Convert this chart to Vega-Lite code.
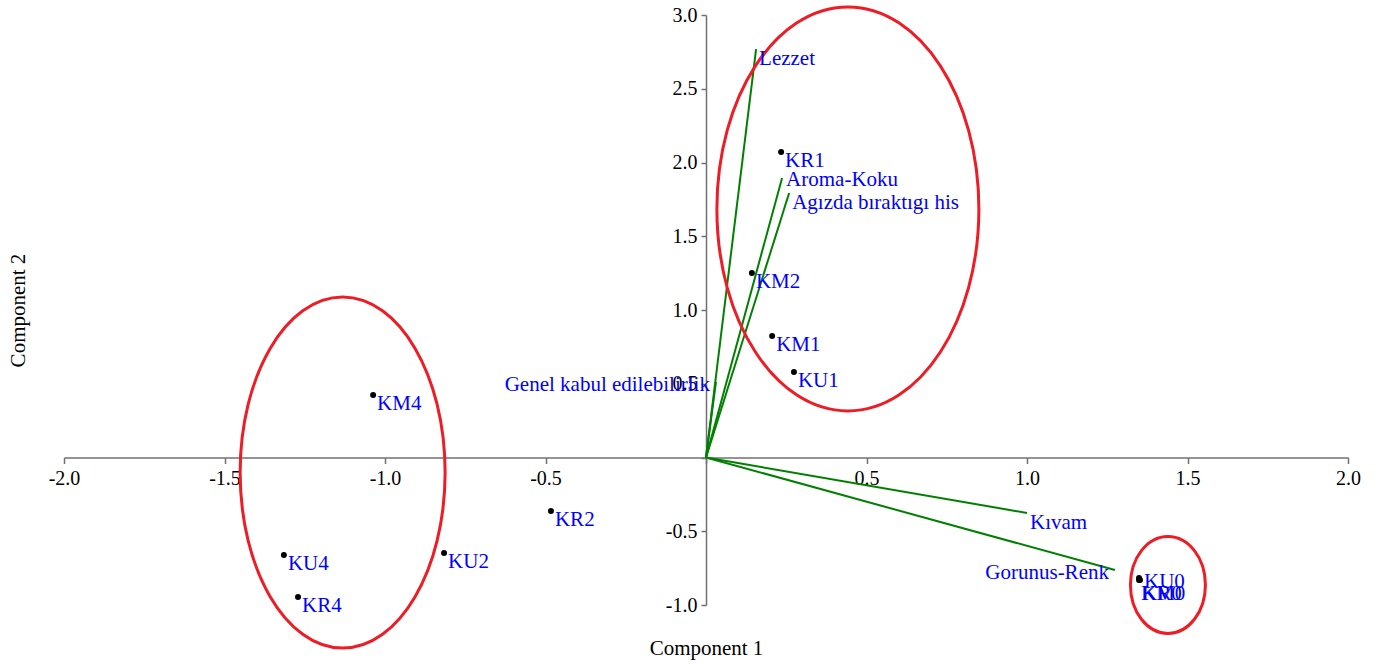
{
  "$schema": "https://vega.github.io/schema/vega-lite/v6.json",
  "width": 1284,
  "height": 590,
  "autosize": {"type": "none"},
  "padding": {"left": 64, "top": 15, "right": 36, "bottom": 59},
  "background": "white",
  "config": {"view": {"stroke": null}, "font": "Liberation Serif"},
  "datasets": {
    "scores": [
      {"name": "KR1", "x": 0.234, "y": 2.071},
      {"name": "KM2", "x": 0.143, "y": 1.251},
      {"name": "KM1", "x": 0.206, "y": 0.824},
      {"name": "KU1", "x": 0.274, "y": 0.580},
      {"name": "KM4", "x": -1.037, "y": 0.424},
      {"name": "KR2", "x": -0.483, "y": -0.363},
      {"name": "KU2", "x": -0.816, "y": -0.647},
      {"name": "KU4", "x": -1.315, "y": -0.661},
      {"name": "KR4", "x": -1.271, "y": -0.946},
      {"name": "KU0", "x": 1.349, "y": -0.817},
      {"name": "KM0", "x": 1.349, "y": -0.831},
      {"name": "KR0", "x": 1.352, "y": -0.831}
    ],
    "loadings": [
      {"name": "Lezzet", "x": 0.156, "y": 2.769},
      {"name": "Aroma-Koku", "x": 0.237, "y": 1.895},
      {"name": "Agızda bıraktıgı his", "x": 0.259, "y": 1.793},
      {"name": "Genel kabul edilebilirlik", "x": 0.031, "y": 0.512},
      {"name": "Kıvam", "x": 1.0, "y": -0.376},
      {"name": "Gorunus-Renk", "x": 1.274, "y": -0.763}
    ],
    "groups": [
      {"group": "upper", "x": 0.442, "y": 1.685},
      {"group": "left", "x": -1.132, "y": -0.102},
      {"group": "right", "x": 1.439, "y": -0.864}
    ]
  },
  "encoding": {
    "x": {
      "field": "x",
      "type": "quantitative",
      "scale": {"domain": [-2, 2], "nice": false, "zero": false},
      "axis": {
        "title": "Component 1",
        "values": [-2, -1.5, -1, -0.5, 0, 0.5, 1, 1.5, 2],
        "labelExpr": "datum.value == 0 ? '' : replace(format(datum.value, '.1f'), '\u2212', '-')",
        "offset": -147.5,
        "grid": false,
        "domainColor": "#707070",
        "domainWidth": 1.5,
        "tickColor": "#707070",
        "tickWidth": 1.5,
        "tickSize": 6,
        "labelFont": "Liberation Serif",
        "labelFontSize": 20,
        "labelColor": "black",
        "labelPadding": 5,
        "labelFlush": false,
        "labelOverlap": false,
        "titleFont": "Liberation Serif",
        "titleFontSize": 21,
        "titleFontWeight": "normal",
        "titleColor": "black",
        "titleBaseline": "alphabetic",
        "titleY": 197
      }
    },
    "y": {
      "field": "y",
      "type": "quantitative",
      "scale": {"domain": [-1, 3], "nice": false, "zero": false},
      "axis": {
        "title": "Component 2",
        "values": [-1, -0.5, 0, 0.5, 1, 1.5, 2, 2.5, 3],
        "labelExpr": "datum.value == 0 ? '' : replace(format(datum.value, '.1f'), '\u2212', '-')",
        "offset": -642,
        "grid": false,
        "domainColor": "#707070",
        "domainWidth": 1.5,
        "tickColor": "#707070",
        "tickWidth": 1.5,
        "tickSize": 5,
        "labelFont": "Liberation Serif",
        "labelFontSize": 20,
        "labelColor": "black",
        "labelPadding": 4,
        "labelFlush": false,
        "labelOverlap": false,
        "titleFont": "Liberation Serif",
        "titleFontSize": 21,
        "titleFontWeight": "normal",
        "titleColor": "black",
        "titleBaseline": "alphabetic",
        "titleAngle": -90,
        "titleX": -682
      }
    }
  },
  "layer": [
    {
      "data": {"name": "loadings"},
      "mark": {"type": "rule", "color": "#008000", "strokeWidth": 2},
      "encoding": {"x2": {"datum": 0}, "y2": {"datum": 0}}
    },
    {
      "data": {"name": "groups"},
      "transform": [{"filter": "datum.group == 'upper'"}],
      "mark": {"type": "point", "filled": false, "opacity": 1, "stroke": "#EE1C25", "strokeWidth": 3, "size": 163216,
        "shape": "M0,-1C0.3582,-1 0.6485,-0.5523 0.6485,0C0.6485,0.5523 0.3582,1 0,1C-0.3582,1 -0.6485,0.5523 -0.6485,0C-0.6485,-0.5523 -0.3582,-1 0,-1Z"}
    },
    {
      "data": {"name": "groups"},
      "transform": [{"filter": "datum.group == 'left'"}],
      "mark": {"type": "point", "filled": false, "opacity": 1, "stroke": "#EE1C25", "strokeWidth": 3, "size": 123201,
        "shape": "M0,-1C0.3225,-1 0.584,-0.5523 0.584,0C0.584,0.5523 0.3225,1 0,1C-0.3225,1 -0.584,0.5523 -0.584,0C-0.584,-0.5523 -0.3225,-1 0,-1Z"}
    },
    {
      "data": {"name": "groups"},
      "transform": [{"filter": "datum.group == 'right'"}],
      "mark": {"type": "point", "filled": false, "opacity": 1, "stroke": "#EE1C25", "strokeWidth": 3, "size": 9409,
        "shape": "M0,-1C0.4269,-1 0.773,-0.5523 0.773,0C0.773,0.5523 0.4269,1 0,1C-0.4269,1 -0.773,0.5523 -0.773,0C-0.773,-0.5523 -0.4269,-1 0,-1Z"}
    },
    {
      "data": {"name": "scores"},
      "mark": {"type": "point", "filled": true, "opacity": 1, "color": "black", "size": 36, "shape": "circle"}
    },
    {
      "data": {"name": "scores"},
      "transform": [{"filter": "datum.name != 'KU0' && datum.name != 'KM0' && datum.name != 'KR0'"}],
      "mark": {"type": "text", "align": "left", "baseline": "middle", "dx": 4, "dy": 9, "font": "Liberation Serif", "fontSize": 21, "color": "#0000FF"},
      "encoding": {"text": {"field": "name"}}
    },
    {
      "data": {"name": "scores"},
      "transform": [{"filter": "datum.name == 'KU0'"}],
      "mark": {"type": "text", "align": "left", "baseline": "middle", "dx": 5, "dy": 4, "font": "Liberation Serif", "fontSize": 21, "color": "#0000FF"},
      "encoding": {"text": {"field": "name"}}
    },
    {
      "data": {"name": "scores"},
      "transform": [{"filter": "datum.name == 'KM0' || datum.name == 'KR0'"}],
      "mark": {"type": "text", "align": "left", "baseline": "middle", "dx": 2, "dy": 14, "font": "Liberation Serif", "fontSize": 21, "color": "#0000FF"},
      "encoding": {"text": {"field": "name"}}
    },
    {
      "data": {"name": "loadings"},
      "transform": [{"filter": "datum.name == 'Lezzet' || datum.name == 'Agızda bıraktıgı his' || datum.name == 'Kıvam'"}],
      "mark": {"type": "text", "align": "left", "baseline": "middle", "dx": 3, "dy": 10, "font": "Liberation Serif", "fontSize": 21, "color": "#0000FF"},
      "encoding": {"text": {"field": "name"}}
    },
    {
      "data": {"name": "loadings"},
      "transform": [{"filter": "datum.name == 'Aroma-Koku'"}],
      "mark": {"type": "text", "align": "left", "baseline": "middle", "dx": 4, "dy": 2, "font": "Liberation Serif", "fontSize": 21, "color": "#0000FF"},
      "encoding": {"text": {"field": "name"}}
    },
    {
      "data": {"name": "loadings"},
      "transform": [{"filter": "datum.name == 'Genel kabul edilebilirlik' || datum.name == 'Gorunus-Renk'"}],
      "mark": {"type": "text", "align": "right", "baseline": "middle", "dx": -6, "dy": 3, "font": "Liberation Serif", "fontSize": 21, "color": "#0000FF"},
      "encoding": {"text": {"field": "name"}}
    }
  ]
}
